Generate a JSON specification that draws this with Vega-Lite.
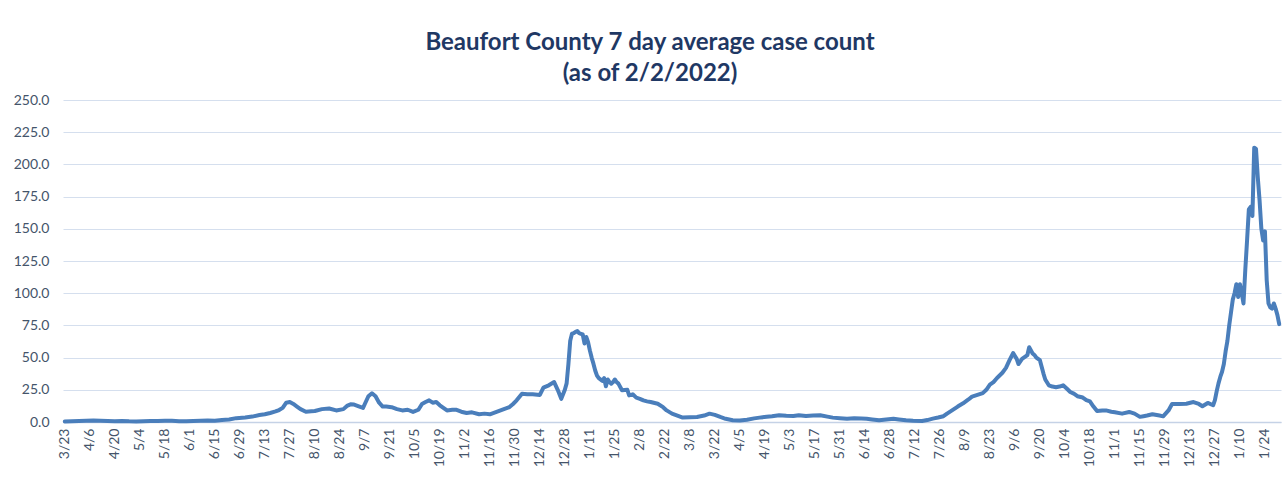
{
  "$schema": "https://vega.github.io/schema/vega-lite/v6.json",
  "width": 1218,
  "height": 322,
  "autosize": {"type": "none"},
  "padding": {"left": 63, "top": 100, "right": 6, "bottom": 56},
  "background": "white",
  "title": {
    "text": ["Beaufort County 7 day average case count", "(as of 2/2/2022)"],
    "font": "Lato",
    "fontSize": 24,
    "fontWeight": "bold",
    "color": "#1f3864",
    "lineHeight": 31,
    "anchor": "middle",
    "dx": -22,
    "offset": 7
  },
  "config": {"view": {"stroke": null}},
  "data": {
    "values": [
      {"date": "2020-03-23", "cases": 0.4},
      {"date": "2020-03-27", "cases": 0.6},
      {"date": "2020-03-31", "cases": 0.8},
      {"date": "2020-04-04", "cases": 1.0},
      {"date": "2020-04-08", "cases": 1.2},
      {"date": "2020-04-12", "cases": 0.9},
      {"date": "2020-04-16", "cases": 0.7},
      {"date": "2020-04-20", "cases": 0.6},
      {"date": "2020-04-24", "cases": 0.8},
      {"date": "2020-04-28", "cases": 0.5},
      {"date": "2020-05-02", "cases": 0.4},
      {"date": "2020-05-06", "cases": 0.5},
      {"date": "2020-05-10", "cases": 0.7},
      {"date": "2020-05-14", "cases": 0.8},
      {"date": "2020-05-18", "cases": 1.0},
      {"date": "2020-05-22", "cases": 0.9},
      {"date": "2020-05-26", "cases": 0.6},
      {"date": "2020-05-30", "cases": 0.5},
      {"date": "2020-06-03", "cases": 0.8},
      {"date": "2020-06-07", "cases": 1.0},
      {"date": "2020-06-11", "cases": 1.2},
      {"date": "2020-06-15", "cases": 1.0},
      {"date": "2020-06-19", "cases": 1.6},
      {"date": "2020-06-23", "cases": 2.0},
      {"date": "2020-06-27", "cases": 3.0},
      {"date": "2020-07-02", "cases": 3.5},
      {"date": "2020-07-06", "cases": 4.2},
      {"date": "2020-07-10", "cases": 5.4},
      {"date": "2020-07-13", "cases": 6.0},
      {"date": "2020-07-16", "cases": 7.0},
      {"date": "2020-07-19", "cases": 8.2},
      {"date": "2020-07-21", "cases": 9.3},
      {"date": "2020-07-23", "cases": 11.0},
      {"date": "2020-07-25", "cases": 15.0},
      {"date": "2020-07-27", "cases": 15.5},
      {"date": "2020-07-29", "cases": 14.0},
      {"date": "2020-07-31", "cases": 12.0},
      {"date": "2020-08-02", "cases": 10.0},
      {"date": "2020-08-05", "cases": 8.0},
      {"date": "2020-08-08", "cases": 8.3},
      {"date": "2020-08-10", "cases": 8.5},
      {"date": "2020-08-14", "cases": 10.0},
      {"date": "2020-08-18", "cases": 10.5},
      {"date": "2020-08-22", "cases": 9.0},
      {"date": "2020-08-26", "cases": 10.0},
      {"date": "2020-08-28", "cases": 12.5},
      {"date": "2020-08-30", "cases": 13.7},
      {"date": "2020-09-01", "cases": 13.5},
      {"date": "2020-09-04", "cases": 12.0},
      {"date": "2020-09-06", "cases": 11.0},
      {"date": "2020-09-07", "cases": 14.0},
      {"date": "2020-09-09", "cases": 20.0},
      {"date": "2020-09-11", "cases": 22.3},
      {"date": "2020-09-13", "cases": 20.0},
      {"date": "2020-09-15", "cases": 15.0},
      {"date": "2020-09-17", "cases": 12.0},
      {"date": "2020-09-19", "cases": 12.0},
      {"date": "2020-09-22", "cases": 11.5},
      {"date": "2020-09-25", "cases": 10.0},
      {"date": "2020-09-28", "cases": 9.0},
      {"date": "2020-10-01", "cases": 9.5},
      {"date": "2020-10-04", "cases": 7.8},
      {"date": "2020-10-07", "cases": 9.5},
      {"date": "2020-10-09", "cases": 14.0},
      {"date": "2020-10-11", "cases": 15.5},
      {"date": "2020-10-13", "cases": 16.8},
      {"date": "2020-10-15", "cases": 15.0},
      {"date": "2020-10-17", "cases": 15.5},
      {"date": "2020-10-19", "cases": 13.0},
      {"date": "2020-10-21", "cases": 11.0},
      {"date": "2020-10-23", "cases": 9.0},
      {"date": "2020-10-26", "cases": 9.5},
      {"date": "2020-10-28", "cases": 9.6},
      {"date": "2020-10-31", "cases": 8.0},
      {"date": "2020-11-03", "cases": 7.0},
      {"date": "2020-11-06", "cases": 7.5},
      {"date": "2020-11-10", "cases": 6.0},
      {"date": "2020-11-13", "cases": 6.5},
      {"date": "2020-11-16", "cases": 6.0},
      {"date": "2020-11-19", "cases": 7.5},
      {"date": "2020-11-22", "cases": 9.0},
      {"date": "2020-11-25", "cases": 10.5},
      {"date": "2020-11-27", "cases": 11.6},
      {"date": "2020-11-29", "cases": 14.0},
      {"date": "2020-12-01", "cases": 16.8},
      {"date": "2020-12-04", "cases": 22.0},
      {"date": "2020-12-07", "cases": 21.5},
      {"date": "2020-12-10", "cases": 21.5},
      {"date": "2020-12-14", "cases": 21.0},
      {"date": "2020-12-16", "cases": 26.7},
      {"date": "2020-12-19", "cases": 28.5},
      {"date": "2020-12-22", "cases": 31.0},
      {"date": "2020-12-24", "cases": 25.0},
      {"date": "2020-12-26", "cases": 18.0},
      {"date": "2020-12-28", "cases": 25.0},
      {"date": "2020-12-29", "cases": 30.0},
      {"date": "2020-12-30", "cases": 45.0},
      {"date": "2020-12-31", "cases": 63.0},
      {"date": "2021-01-01", "cases": 68.6},
      {"date": "2021-01-02", "cases": 69.0},
      {"date": "2021-01-03", "cases": 70.0},
      {"date": "2021-01-04", "cases": 70.6},
      {"date": "2021-01-05", "cases": 69.0},
      {"date": "2021-01-06", "cases": 68.5},
      {"date": "2021-01-07", "cases": 68.0},
      {"date": "2021-01-08", "cases": 61.0},
      {"date": "2021-01-09", "cases": 66.0},
      {"date": "2021-01-10", "cases": 62.0},
      {"date": "2021-01-11", "cases": 55.6},
      {"date": "2021-01-12", "cases": 50.0},
      {"date": "2021-01-13", "cases": 45.3},
      {"date": "2021-01-14", "cases": 40.0},
      {"date": "2021-01-15", "cases": 36.0},
      {"date": "2021-01-16", "cases": 34.0},
      {"date": "2021-01-18", "cases": 32.0},
      {"date": "2021-01-19", "cases": 34.0},
      {"date": "2021-01-20", "cases": 27.7},
      {"date": "2021-01-21", "cases": 33.0},
      {"date": "2021-01-22", "cases": 31.0},
      {"date": "2021-01-23", "cases": 29.8},
      {"date": "2021-01-24", "cases": 31.0},
      {"date": "2021-01-25", "cases": 33.0},
      {"date": "2021-01-26", "cases": 31.0},
      {"date": "2021-01-27", "cases": 29.8},
      {"date": "2021-01-29", "cases": 24.6},
      {"date": "2021-02-01", "cases": 25.0},
      {"date": "2021-02-02", "cases": 20.7},
      {"date": "2021-02-04", "cases": 21.5},
      {"date": "2021-02-06", "cases": 18.9},
      {"date": "2021-02-08", "cases": 18.0},
      {"date": "2021-02-10", "cases": 16.8},
      {"date": "2021-02-12", "cases": 16.0},
      {"date": "2021-02-14", "cases": 15.5},
      {"date": "2021-02-18", "cases": 14.2},
      {"date": "2021-02-21", "cases": 11.5},
      {"date": "2021-02-23", "cases": 9.0},
      {"date": "2021-02-26", "cases": 6.5},
      {"date": "2021-03-01", "cases": 5.0},
      {"date": "2021-03-04", "cases": 3.4},
      {"date": "2021-03-08", "cases": 3.6},
      {"date": "2021-03-12", "cases": 3.9},
      {"date": "2021-03-16", "cases": 5.0},
      {"date": "2021-03-19", "cases": 6.5},
      {"date": "2021-03-22", "cases": 5.5},
      {"date": "2021-03-25", "cases": 3.9},
      {"date": "2021-03-28", "cases": 2.5},
      {"date": "2021-04-01", "cases": 1.3},
      {"date": "2021-04-05", "cases": 1.2},
      {"date": "2021-04-09", "cases": 1.8},
      {"date": "2021-04-13", "cases": 2.8},
      {"date": "2021-04-16", "cases": 3.4},
      {"date": "2021-04-20", "cases": 4.0},
      {"date": "2021-04-23", "cases": 4.4},
      {"date": "2021-04-27", "cases": 5.2},
      {"date": "2021-05-01", "cases": 4.8},
      {"date": "2021-05-05", "cases": 4.7},
      {"date": "2021-05-08", "cases": 5.3},
      {"date": "2021-05-12", "cases": 4.7},
      {"date": "2021-05-16", "cases": 5.0},
      {"date": "2021-05-20", "cases": 5.3},
      {"date": "2021-05-24", "cases": 4.2},
      {"date": "2021-05-27", "cases": 3.4},
      {"date": "2021-05-31", "cases": 3.0},
      {"date": "2021-06-04", "cases": 2.6},
      {"date": "2021-06-08", "cases": 3.0},
      {"date": "2021-06-12", "cases": 2.8},
      {"date": "2021-06-15", "cases": 2.6},
      {"date": "2021-06-18", "cases": 2.0},
      {"date": "2021-06-22", "cases": 1.3},
      {"date": "2021-06-26", "cases": 2.0},
      {"date": "2021-06-30", "cases": 2.6},
      {"date": "2021-07-03", "cases": 2.0},
      {"date": "2021-07-07", "cases": 1.3},
      {"date": "2021-07-11", "cases": 1.0},
      {"date": "2021-07-16", "cases": 0.8},
      {"date": "2021-07-19", "cases": 1.5},
      {"date": "2021-07-22", "cases": 2.6},
      {"date": "2021-07-25", "cases": 3.5},
      {"date": "2021-07-28", "cases": 4.5},
      {"date": "2021-07-30", "cases": 6.5},
      {"date": "2021-08-02", "cases": 9.2},
      {"date": "2021-08-05", "cases": 12.0},
      {"date": "2021-08-08", "cases": 14.5},
      {"date": "2021-08-11", "cases": 17.5},
      {"date": "2021-08-13", "cases": 19.7},
      {"date": "2021-08-16", "cases": 21.0},
      {"date": "2021-08-19", "cases": 22.4},
      {"date": "2021-08-21", "cases": 25.0},
      {"date": "2021-08-23", "cases": 29.0},
      {"date": "2021-08-25", "cases": 31.0},
      {"date": "2021-08-27", "cases": 34.2},
      {"date": "2021-08-30", "cases": 38.2},
      {"date": "2021-09-01", "cases": 42.0},
      {"date": "2021-09-03", "cases": 48.0},
      {"date": "2021-09-05", "cases": 53.5},
      {"date": "2021-09-07", "cases": 49.0},
      {"date": "2021-09-08", "cases": 45.0},
      {"date": "2021-09-10", "cases": 49.0},
      {"date": "2021-09-12", "cases": 51.0},
      {"date": "2021-09-13", "cases": 52.0},
      {"date": "2021-09-14", "cases": 58.0},
      {"date": "2021-09-16", "cases": 53.0},
      {"date": "2021-09-17", "cases": 52.0},
      {"date": "2021-09-18", "cases": 50.0},
      {"date": "2021-09-20", "cases": 48.0},
      {"date": "2021-09-22", "cases": 37.6},
      {"date": "2021-09-23", "cases": 33.0},
      {"date": "2021-09-25", "cases": 28.5},
      {"date": "2021-09-27", "cases": 27.5},
      {"date": "2021-09-29", "cases": 27.0},
      {"date": "2021-10-01", "cases": 27.5},
      {"date": "2021-10-03", "cases": 28.5},
      {"date": "2021-10-05", "cases": 26.0},
      {"date": "2021-10-07", "cases": 23.3},
      {"date": "2021-10-09", "cases": 22.0},
      {"date": "2021-10-11", "cases": 20.0},
      {"date": "2021-10-14", "cases": 19.0},
      {"date": "2021-10-16", "cases": 17.0},
      {"date": "2021-10-18", "cases": 16.0},
      {"date": "2021-10-20", "cases": 12.0},
      {"date": "2021-10-22", "cases": 8.5},
      {"date": "2021-10-25", "cases": 9.0},
      {"date": "2021-10-27", "cases": 9.0},
      {"date": "2021-10-30", "cases": 8.0},
      {"date": "2021-11-01", "cases": 7.5},
      {"date": "2021-11-05", "cases": 6.5},
      {"date": "2021-11-09", "cases": 7.8},
      {"date": "2021-11-12", "cases": 6.5},
      {"date": "2021-11-15", "cases": 4.0},
      {"date": "2021-11-17", "cases": 4.5},
      {"date": "2021-11-19", "cases": 5.0},
      {"date": "2021-11-22", "cases": 6.0},
      {"date": "2021-11-26", "cases": 5.0},
      {"date": "2021-11-28", "cases": 4.4},
      {"date": "2021-12-01", "cases": 9.0},
      {"date": "2021-12-03", "cases": 14.0},
      {"date": "2021-12-07", "cases": 14.0},
      {"date": "2021-12-11", "cases": 14.2},
      {"date": "2021-12-15", "cases": 15.5},
      {"date": "2021-12-18", "cases": 14.0},
      {"date": "2021-12-20", "cases": 12.2},
      {"date": "2021-12-23", "cases": 14.8},
      {"date": "2021-12-26", "cases": 13.0},
      {"date": "2021-12-27", "cases": 17.0},
      {"date": "2021-12-28", "cases": 24.0},
      {"date": "2021-12-29", "cases": 30.0},
      {"date": "2021-12-30", "cases": 35.0},
      {"date": "2021-12-31", "cases": 39.0},
      {"date": "2022-01-01", "cases": 45.0},
      {"date": "2022-01-02", "cases": 55.0},
      {"date": "2022-01-03", "cases": 63.0},
      {"date": "2022-01-04", "cases": 75.0},
      {"date": "2022-01-05", "cases": 85.0},
      {"date": "2022-01-06", "cases": 95.0},
      {"date": "2022-01-07", "cases": 100.0},
      {"date": "2022-01-08", "cases": 107.0},
      {"date": "2022-01-09", "cases": 97.0},
      {"date": "2022-01-10", "cases": 107.0},
      {"date": "2022-01-11", "cases": 100.0},
      {"date": "2022-01-12", "cases": 92.0},
      {"date": "2022-01-13", "cases": 118.0},
      {"date": "2022-01-14", "cases": 141.0},
      {"date": "2022-01-15", "cases": 165.0},
      {"date": "2022-01-16", "cases": 167.0},
      {"date": "2022-01-17", "cases": 160.0},
      {"date": "2022-01-18", "cases": 213.0},
      {"date": "2022-01-19", "cases": 212.0},
      {"date": "2022-01-20", "cases": 190.0},
      {"date": "2022-01-21", "cases": 172.0},
      {"date": "2022-01-22", "cases": 150.0},
      {"date": "2022-01-23", "cases": 141.0},
      {"date": "2022-01-24", "cases": 148.0},
      {"date": "2022-01-25", "cases": 110.0},
      {"date": "2022-01-26", "cases": 92.0},
      {"date": "2022-01-27", "cases": 89.0},
      {"date": "2022-01-28", "cases": 88.0},
      {"date": "2022-01-29", "cases": 92.0},
      {"date": "2022-01-30", "cases": 88.0},
      {"date": "2022-01-31", "cases": 83.0},
      {"date": "2022-02-01", "cases": 76.0}
    ]
  },
  "mark": {"type": "line", "color": "#4a7ebb", "strokeWidth": 4, "strokeJoin": "round", "strokeCap": "round"},
  "encoding": {
    "x": {
      "field": "date",
      "type": "temporal",
      "scale": {
        "type": "utc",
        "domain": [
          {"year": 2020, "month": 3, "date": 22, "utc": true},
          {"year": 2022, "month": 2, "date": 2, "utc": true}
        ]
      },
      "axis": {
        "title": null,
        "values": [
          {"year": 2020, "month": 3, "date": 23, "utc": true},
          {"year": 2020, "month": 4, "date": 6, "utc": true},
          {"year": 2020, "month": 4, "date": 20, "utc": true},
          {"year": 2020, "month": 5, "date": 4, "utc": true},
          {"year": 2020, "month": 5, "date": 18, "utc": true},
          {"year": 2020, "month": 6, "date": 1, "utc": true},
          {"year": 2020, "month": 6, "date": 15, "utc": true},
          {"year": 2020, "month": 6, "date": 29, "utc": true},
          {"year": 2020, "month": 7, "date": 13, "utc": true},
          {"year": 2020, "month": 7, "date": 27, "utc": true},
          {"year": 2020, "month": 8, "date": 10, "utc": true},
          {"year": 2020, "month": 8, "date": 24, "utc": true},
          {"year": 2020, "month": 9, "date": 7, "utc": true},
          {"year": 2020, "month": 9, "date": 21, "utc": true},
          {"year": 2020, "month": 10, "date": 5, "utc": true},
          {"year": 2020, "month": 10, "date": 19, "utc": true},
          {"year": 2020, "month": 11, "date": 2, "utc": true},
          {"year": 2020, "month": 11, "date": 16, "utc": true},
          {"year": 2020, "month": 11, "date": 30, "utc": true},
          {"year": 2020, "month": 12, "date": 14, "utc": true},
          {"year": 2020, "month": 12, "date": 28, "utc": true},
          {"year": 2021, "month": 1, "date": 11, "utc": true},
          {"year": 2021, "month": 1, "date": 25, "utc": true},
          {"year": 2021, "month": 2, "date": 8, "utc": true},
          {"year": 2021, "month": 2, "date": 22, "utc": true},
          {"year": 2021, "month": 3, "date": 8, "utc": true},
          {"year": 2021, "month": 3, "date": 22, "utc": true},
          {"year": 2021, "month": 4, "date": 5, "utc": true},
          {"year": 2021, "month": 4, "date": 19, "utc": true},
          {"year": 2021, "month": 5, "date": 3, "utc": true},
          {"year": 2021, "month": 5, "date": 17, "utc": true},
          {"year": 2021, "month": 5, "date": 31, "utc": true},
          {"year": 2021, "month": 6, "date": 14, "utc": true},
          {"year": 2021, "month": 6, "date": 28, "utc": true},
          {"year": 2021, "month": 7, "date": 12, "utc": true},
          {"year": 2021, "month": 7, "date": 26, "utc": true},
          {"year": 2021, "month": 8, "date": 9, "utc": true},
          {"year": 2021, "month": 8, "date": 23, "utc": true},
          {"year": 2021, "month": 9, "date": 6, "utc": true},
          {"year": 2021, "month": 9, "date": 20, "utc": true},
          {"year": 2021, "month": 10, "date": 4, "utc": true},
          {"year": 2021, "month": 10, "date": 18, "utc": true},
          {"year": 2021, "month": 11, "date": 1, "utc": true},
          {"year": 2021, "month": 11, "date": 15, "utc": true},
          {"year": 2021, "month": 11, "date": 29, "utc": true},
          {"year": 2021, "month": 12, "date": 13, "utc": true},
          {"year": 2021, "month": 12, "date": 27, "utc": true},
          {"year": 2022, "month": 1, "date": 10, "utc": true},
          {"year": 2022, "month": 1, "date": 24, "utc": true}
        ],
        "format": "%-m/%-d",
        "labelAngle": -90,
        "labelFont": "Lato",
        "labelFontSize": 14,
        "labelColor": "#44546a",
        "labelPadding": 6,
        "labelOverlap": false,
        "labelBound": false,
        "labelFlush": false,
        "ticks": false,
        "grid": false,
        "domainColor": "#c5d2e6",
        "domainWidth": 1.5
      }
    },
    "y": {
      "field": "cases",
      "type": "quantitative",
      "scale": {"domain": [0, 250]},
      "axis": {
        "title": null,
        "values": [0, 25, 50, 75, 100, 125, 150, 175, 200, 225, 250],
        "format": ".1f",
        "labelFont": "Lato",
        "labelFontSize": 14,
        "labelColor": "#44546a",
        "labelPadding": 14,
        "ticks": false,
        "domain": false,
        "gridColor": "#d5dfee",
        "gridWidth": 1.2
      }
    }
  }
}
